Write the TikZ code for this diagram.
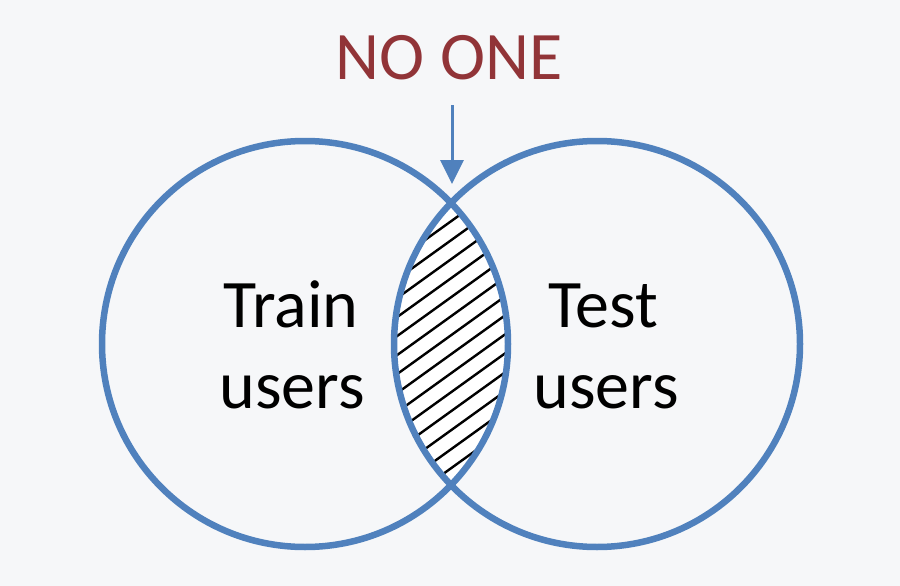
\documentclass[tikz,border=0pt]{standalone}
\usepackage{fontspec}
\setmainfont{Carlito}
\usetikzlibrary{arrows.meta}
\definecolor{vblue}{RGB}{80,129,189}
\definecolor{vred}{RGB}{145,52,56}
\definecolor{bgc}{RGB}{246,247,249}
\begin{document}
\begin{tikzpicture}[x=1pt,y=-1pt,
  ring/.style={circle,draw=vblue,line width=6.5pt,minimum size=406pt,inner sep=0pt},
  lbl/.style={font=\fontsize{68}{81}\selectfont,text=black,inner sep=0pt},
  hatchline/.style={line width=2.4pt,black},
  pointer/.style={draw=vblue,line width=3pt,-{Triangle[width=23pt,length=24pt]}}]
\fill[bgc] (0,0) rectangle (900,586);
\useasboundingbox (0,0) rectangle (900,586);
\begin{scope}
  \clip (305,344) circle[radius=203pt];
  \clip (597,344) circle[radius=203pt];
  \fill[white] (380,190) rectangle (520,500);
  \foreach \c in {470,489,...,850} \draw[hatchline] (380,{\c-0.72*380}) -- (520,{\c-0.72*520});
\end{scope}
\node[ring] (L) at (305,344) {};
\node[ring] (R) at (597,344) {};
\node[lbl,anchor=base] (train) at (291,327) {Train};
\node[lbl,anchor=base] (trainu) at (292,408) {users};
\node[lbl,anchor=base] (test) at (603,327) {Test};
\node[lbl,anchor=base] (testu) at (606,408) {users};
\node[lbl,anchor=base,text=vred] (noone) at (449,80) {NO ONE};
\coordinate (astart) at (452,105);
\coordinate (aend) at (452,184);
\draw[pointer] (astart) -- (aend);
\end{tikzpicture}
\end{document}
